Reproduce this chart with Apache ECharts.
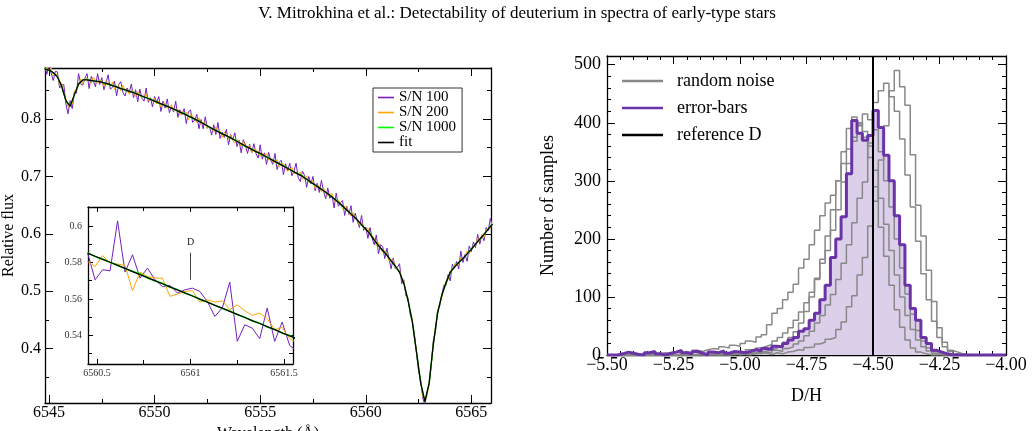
<!DOCTYPE html>
<html>
<head>
<meta charset="utf-8">
<title>Detectability of deuterium</title>
<script src="https://cdn.jsdelivr.net/npm/echarts@6.0.0/dist/echarts.min.js"></script>
<style>
  html, body { margin: 0; padding: 0; background: #fff; }
  #chart { width: 1034px; height: 431px; }
</style>
</head>
<body>
<div id="chart"></div>
<script>
const SERIF = 'Liberation Serif';
const TITLE = 'V. Mitrokhina et al.: Detectability of deuterium in spectra of early-type stars';

// ---- left panel: synthetic spectra around H-alpha ----
const WAVE_MIN = 6544.81, WAVE_MAX = 6565.93;
const FLUX_MIN = 0.3054, FLUX_MAX = 0.8888;
const waveTicks = [6545, 6550, 6555, 6560, 6565];
const waveMinorTicks = [6547.5, 6552.5, 6557.5, 6562.5];
const fluxTicks = [0.4, 0.5, 0.6, 0.7, 0.8];
const fluxMinorTicks = [0.35, 0.45, 0.55, 0.65, 0.75, 0.85];

// noisy spectra sampled every 0.1 A, fit and S/N 1000 every 0.2 A
const SPEC_START = 6544.8, NOISY_STEP = 0.1, SMOOTH_STEP = 0.2;

const fitFlux = [
  0.887,0.885,0.881,0.873,0.857,0.832,0.822,0.842,0.861,0.868,
  0.868,0.867,0.866,0.865,0.863,0.861,0.858,0.856,0.853,0.851,
  0.848,0.846,0.843,0.840,0.837,0.834,0.831,0.828,0.825,0.822,
  0.819,0.816,0.812,0.809,0.805,0.802,0.798,0.794,0.790,0.786,
  0.782,0.778,0.774,0.771,0.767,0.763,0.759,0.755,0.751,0.747,
  0.743,0.740,0.736,0.732,0.728,0.724,0.720,0.716,0.712,0.708,
  0.704,0.700,0.695,0.690,0.685,0.680,0.675,0.670,0.664,0.658,
  0.652,0.645,0.638,0.631,0.624,0.616,0.608,0.600,0.589,0.580,
  0.571,0.563,0.553,0.544,0.533,0.514,0.484,0.448,0.395,0.340,
  0.308,0.340,0.408,0.462,0.493,0.515,0.533,0.542,0.550,0.557,
  0.565,0.573,0.582,0.591,0.599,0.608,0.617
];

const sn1000Flux = [
  0.888,0.885,0.880,0.874,0.857,0.831,0.823,0.842,0.860,0.868,
  0.869,0.867,0.865,0.866,0.863,0.860,0.858,0.857,0.853,0.850,
  0.848,0.847,0.843,0.839,0.837,0.835,0.831,0.827,0.825,0.823,
  0.819,0.815,0.812,0.810,0.805,0.801,0.798,0.795,0.790,0.785,
  0.782,0.779,0.774,0.770,0.767,0.764,0.759,0.754,0.751,0.748,
  0.743,0.739,0.736,0.733,0.728,0.723,0.720,0.717,0.712,0.707,
  0.704,0.701,0.695,0.689,0.685,0.681,0.675,0.669,0.664,0.659,
  0.652,0.644,0.638,0.632,0.624,0.615,0.608,0.601,0.589,0.579,
  0.571,0.564,0.553,0.543,0.533,0.515,0.484,0.447,0.395,0.341,
  0.308,0.339,0.408,0.463,0.493,0.514,0.533,0.543,0.550,0.556,
  0.565,0.574,0.582,0.590,0.599,0.609,0.617
];

const sn100Flux = [
  0.892,0.878,0.897,0.880,0.867,0.883,0.882,0.854,0.859,0.860,
  0.826,0.809,0.832,0.818,0.846,0.845,0.879,0.861,0.859,0.871,
  0.879,0.853,0.874,0.866,0.856,0.879,0.860,0.872,0.851,0.863,
  0.877,0.852,0.855,0.866,0.840,0.860,0.865,0.846,0.840,0.854,
  0.846,0.861,0.837,0.851,0.830,0.852,0.836,0.831,0.854,0.829,
  0.837,0.821,0.839,0.829,0.839,0.813,0.831,0.819,0.835,0.811,
  0.821,0.812,0.831,0.803,0.816,0.808,0.818,0.792,0.812,0.816,
  0.794,0.798,0.808,0.783,0.799,0.783,0.804,0.784,0.787,0.772,
  0.790,0.773,0.794,0.766,0.777,0.768,0.782,0.755,0.773,0.764,
  0.776,0.752,0.763,0.741,0.764,0.755,0.740,0.756,0.741,0.757,
  0.740,0.732,0.755,0.730,0.741,0.721,0.742,0.728,0.721,0.740,
  0.712,0.725,0.728,0.703,0.722,0.710,0.723,0.701,0.709,0.723,
  0.698,0.691,0.709,0.702,0.681,0.700,0.687,0.700,0.675,0.688,
  0.672,0.693,0.674,0.661,0.680,0.662,0.667,0.645,0.671,0.648,
  0.654,0.658,0.632,0.648,0.634,0.649,0.620,0.636,0.622,0.611,
  0.632,0.606,0.612,0.592,0.611,0.592,0.581,0.598,0.565,0.581,
  0.578,0.557,0.575,0.557,0.539,0.558,0.539,0.542,0.548,0.513,
  0.520,0.492,0.489,0.460,0.449,0.426,0.393,0.360,0.346,0.314,
  0.302,0.324,0.337,0.372,0.415,0.429,0.466,0.474,0.494,0.511,
  0.510,0.529,0.518,0.547,0.540,0.552,0.539,0.570,0.550,0.564,
  0.552,0.579,0.569,0.586,0.576,0.599,0.582,0.598,0.588,0.611,
  0.606,0.627,0.612
];

const sn200Flux = [
  0.884,0.890,0.884,0.889,0.876,0.879,0.876,0.859,0.862,0.843,
  0.836,0.821,0.823,0.826,0.849,0.849,0.860,0.870,0.862,0.870,
  0.871,0.866,0.862,0.873,0.867,0.862,0.869,0.863,0.857,0.867,
  0.863,0.857,0.864,0.852,0.855,0.858,0.849,0.859,0.849,0.851,
  0.843,0.850,0.848,0.839,0.848,0.841,0.837,0.843,0.843,0.831,
  0.835,0.831,0.836,0.826,0.831,0.821,0.827,0.828,0.819,0.820,
  0.825,0.814,0.817,0.817,0.807,0.813,0.807,0.812,0.799,0.808,
  0.805,0.799,0.794,0.802,0.791,0.793,0.795,0.783,0.788,0.782,
  0.778,0.786,0.777,0.779,0.768,0.777,0.772,0.766,0.772,0.763,
  0.758,0.764,0.761,0.753,0.761,0.752,0.748,0.754,0.741,0.747,
  0.747,0.740,0.735,0.741,0.737,0.740,0.728,0.732,0.725,0.725,
  0.729,0.716,0.723,0.722,0.714,0.709,0.713,0.716,0.705,0.708,
  0.703,0.707,0.696,0.696,0.701,0.690,0.691,0.692,0.679,0.685,
  0.683,0.673,0.680,0.672,0.666,0.669,0.670,0.658,0.656,0.659,
  0.653,0.643,0.648,0.647,0.636,0.631,0.637,0.627,0.626,0.615,
  0.620,0.609,0.607,0.610,0.596,0.597,0.592,0.579,0.585,0.574,
  0.568,0.571,0.564,0.553,0.555,0.555,0.540,0.538,0.536,0.522,
  0.519,0.496,0.486,0.465,0.451,0.420,0.396,0.366,0.342,0.317,
  0.309,0.317,0.342,0.372,0.409,0.438,0.460,0.479,0.490,0.506,
  0.519,0.520,0.536,0.536,0.547,0.545,0.547,0.558,0.555,0.562,
  0.570,0.565,0.575,0.577,0.579,0.593,0.589,0.599,0.594,0.607,
  0.609,0.609,0.623
];

// ---- inset: zoom on 6560.5 - 6561.5 A ----
const INSET_WAVE_MIN = 6560.452, INSET_WAVE_MAX = 6561.548;
const INSET_FLUX_MIN = 0.5243, INSET_FLUX_MAX = 0.6104;
const insetWaveTicks = [6560.5, 6561, 6561.5];
const insetWaveMinorTicks = [6560.75, 6561.25];
const insetFluxTicks = [0.54, 0.56, 0.58, 0.6];
const insetFluxMinorTicks = [0.53, 0.55, 0.57, 0.59];
const INSET_START = 6560.45, INSET_STEP = 0.04;

const insetSn100 = [
  0.5851,0.5705,0.5760,0.5754,0.6028,0.5747,0.5842,0.5714,0.5769,0.5705,
  0.5668,0.5674,0.5632,0.5650,0.5659,0.5641,0.5586,0.5504,0.5550,0.5692,
  0.5367,0.5458,0.5440,0.5382,0.5550,0.5367,0.5473,0.5345,0.5312
];
const insetSn200 = [
  0.5805,0.5778,0.5838,0.5796,0.5791,0.5784,0.5645,0.5747,0.5723,0.5714,
  0.5714,0.5614,0.5626,0.5641,0.5645,0.5583,0.5595,0.5583,0.5590,0.5541,
  0.5568,0.5535,0.5510,0.5522,0.5491,0.5431,0.5444,0.5382,0.5358
];
const insetSn1000 = [
  0.5853,0.5832,0.5819,0.5800,0.5786,0.5765,0.5752,0.5738,0.5715,0.5698,
  0.5686,0.5664,0.5651,0.5631,0.5618,0.5597,0.5584,0.5566,0.5547,0.5534,
  0.5513,0.5500,0.5479,0.5467,0.5446,0.5433,0.5412,0.5399,0.5380
];
const insetFit = [
  0.5851,0.5834,0.5817,0.5801,0.5784,0.5767,0.5750,0.5733,0.5717,0.5700,
  0.5683,0.5666,0.5649,0.5633,0.5616,0.5599,0.5582,0.5565,0.5549,0.5532,
  0.5515,0.5498,0.5481,0.5465,0.5448,0.5431,0.5414,0.5397,0.5381
];
// deuterium line position marker
const D_WAVE = 6561, D_MARK_TOP = 0.5853, D_MARK_BOTTOM = 0.5705;

// ---- right panel: D/H histograms ----
const DH_MIN = -5.5, DH_MAX = -4.0, COUNT_MAX = 515;
const DH_BIN = 0.02;
const refD = -4.5;

const errorBarCounts = [
  0,0,2,5,3,1,0,4,6,2,
  0,3,5,8,4,2,6,3,0,5,
  4,7,3,6,5,4,6,9,7,11,
  10,15,14,20,26,30,41,45,60,72,
  95,120,168,200,238,312,404,382,370,378,
  421,392,344,300,240,190,120,80,60,30,
  20,8,5,2,0,0,0,0,0,0,
  0,0,0,0,0
];

const noiseCountsA = [
  0,0,0,0,0,0,0,0,0,0,
  0,0,0,0,0,0,1,0,0,2,
  0,1,0,2,0,1,3,2,4,3,
  1,4,2,5,6,9,8,13,14,19,
  22,27,30,44,57,83,102,138,168,222,
  265,336,395,455,490,462,430,345,258,205,
  146,92,47,22,8,5,2,1,0,0,
  0,0,0,0,0
];
const noiseCountsB = [
  0,0,0,0,0,0,0,0,0,0,
  0,0,0,1,0,0,0,2,0,0,
  0,0,1,0,2,1,0,3,2,5,
  4,8,6,11,14,19,24,33,41,55,
  68,86,104,130,158,190,228,270,298,365,
  435,455,468,445,420,372,310,255,196,140,
  95,58,30,14,6,2,0,0,0,0,
  0,0,0,0,0
];
const noiseCountsC = [
  0,0,0,0,0,0,0,0,0,0,
  0,0,0,0,0,0,1,0,0,2,
  1,3,2,4,6,5,9,8,12,15,
  18,24,30,38,47,60,74,90,108,132,
  158,180,215,250,298,330,368,395,415,405,
  388,350,300,255,200,150,105,70,42,24,
  12,6,3,1,0,0,0,0,0,0,
  0,0,0,0,0
];
const noiseCountsD = [
  0,0,0,1,0,2,0,1,3,2,
  4,2,5,3,6,4,8,6,9,11,
  10,14,12,17,15,20,24,22,31,35,
  52,72,80,95,108,122,150,165,190,215,
  240,262,275,300,330,355,375,398,385,360,
  318,270,225,180,138,100,68,44,26,14,
  7,3,1,0,0,0,0,0,0,0,
  0,0,0,0,0
];
const noiseCountsE = [
  0,0,0,0,0,0,0,0,0,0,
  0,0,0,0,0,0,0,1,0,0,
  0,1,0,2,1,3,2,4,5,7,
  9,12,16,22,30,40,55,75,100,130,
  165,205,250,300,350,390,410,400,375,340,
  290,220,170,120,78,48,26,12,5,2,
  0,0,0,0,0,0,0,0,0,0,
  0,0,0,0,0
];
const noiseRuns = [noiseCountsA, noiseCountsB, noiseCountsC, noiseCountsD, noiseCountsE];

const countTicks = [0, 100, 200, 300, 400, 500];

// ---- colours ----
const PURPLE = '#7221bc', ORANGE = '#ffa500', GREEN = '#00ff00';
const GRAY = '#888888', EB_PURPLE = '#6a33a6', EB_FILL = '#dccfe9';

// build [x, y] pairs on a regular wavelength grid
const gridPairs = (start, step, values) =>
  values.map((v, i) => [+(start + i * step).toFixed(3), v]);

// build a step outline for a histogram (left bin edges)
const histPairs = counts => {
  const pts = [[DH_MIN, 0]];
  counts.forEach((c, i) => pts.push([+(DH_MIN + i * DH_BIN).toFixed(3), c]));
  pts.push([+(DH_MIN + counts.length * DH_BIN).toFixed(3), 0]);
  return pts;
};

// one side of a boxed frame: line + inward ticks (+ labels)
function edgeAxis(o) {
  const ax = {
    type: 'value',
    gridIndex: o.grid,
    position: o.pos,
    min: o.min,
    max: o.max,
    axisLine: { show: !!o.line, onZero: false, lineStyle: { color: '#000', width: 1.3 } },
    axisTick: { show: true, inside: true, length: o.len, lineStyle: { color: '#000', width: 1 } },
    axisLabel: { show: false },
    splitLine: { show: false },
    minorTick: { show: false },
  };
  if (o.interval) ax.interval = o.interval;
  if (o.ticks) ax.axisTick.customValues = o.ticks;
  if (o.label) {
    ax.axisLabel = Object.assign({
      show: true, fontFamily: SERIF, color: '#000',
      showMinLabel: true, showMaxLabel: true,
    }, o.label);
    if (o.ticks) ax.axisLabel.customValues = o.ticks;
  }
  if (o.name) {
    ax.name = o.name;
    ax.nameLocation = 'middle';
    ax.nameGap = o.nameGap;
    ax.nameTextStyle = { fontFamily: SERIF, fontSize: o.nameSize, color: '#000' };
  }
  return ax;
}

const fmtDH = v => (v < 0 ? '\u2212' : '') + Math.abs(v).toFixed(2);

const xAxes = [
  // main spectrum panel (grid 0)
  edgeAxis({ grid: 0, pos: 'bottom', min: WAVE_MIN, max: WAVE_MAX, ticks: waveTicks, len: 8, line: true,
    label: { fontSize: 16, margin: 2, formatter: v => String(v) },
    name: 'Wavelength (\u00c5)', nameGap: 17, nameSize: 16 }),
  edgeAxis({ grid: 0, pos: 'bottom', min: WAVE_MIN, max: WAVE_MAX, ticks: waveMinorTicks, len: 4 }),
  edgeAxis({ grid: 0, pos: 'top', min: WAVE_MIN, max: WAVE_MAX, ticks: waveTicks, len: 8, line: true }),
  edgeAxis({ grid: 0, pos: 'top', min: WAVE_MIN, max: WAVE_MAX, ticks: waveMinorTicks, len: 4 }),
  // inset (grid 1)
  edgeAxis({ grid: 1, pos: 'bottom', min: INSET_WAVE_MIN, max: INSET_WAVE_MAX, ticks: insetWaveTicks, len: 5, line: true,
    label: { fontSize: 10, margin: 4, color: '#333', formatter: v => String(v) } }),
  edgeAxis({ grid: 1, pos: 'bottom', min: INSET_WAVE_MIN, max: INSET_WAVE_MAX, ticks: insetWaveMinorTicks, len: 4 }),
  edgeAxis({ grid: 1, pos: 'top', min: INSET_WAVE_MIN, max: INSET_WAVE_MAX, ticks: insetWaveTicks, len: 5, line: true }),
  edgeAxis({ grid: 1, pos: 'top', min: INSET_WAVE_MIN, max: INSET_WAVE_MAX, ticks: insetWaveMinorTicks, len: 4 }),
  // histogram panel (grid 2)
  edgeAxis({ grid: 2, pos: 'bottom', min: DH_MIN, max: DH_MAX, interval: 0.25, len: 8, line: true,
    label: { fontSize: 18, margin: 1, formatter: fmtDH },
    name: 'D/H', nameGap: 32, nameSize: 18 }),
  edgeAxis({ grid: 2, pos: 'bottom', min: DH_MIN, max: DH_MAX, interval: 0.05, len: 4 }),
  edgeAxis({ grid: 2, pos: 'top', min: DH_MIN, max: DH_MAX, interval: 0.25, len: 8, line: true }),
  edgeAxis({ grid: 2, pos: 'top', min: DH_MIN, max: DH_MAX, interval: 0.05, len: 4 }),
];

const yAxes = [
  edgeAxis({ grid: 0, pos: 'left', min: FLUX_MIN, max: FLUX_MAX, ticks: fluxTicks, len: 8, line: true,
    label: { fontSize: 16, margin: 4, formatter: v => v.toFixed(1) },
    name: 'Relative flux', nameGap: 23, nameSize: 16 }),
  edgeAxis({ grid: 0, pos: 'left', min: FLUX_MIN, max: FLUX_MAX, ticks: fluxMinorTicks, len: 4 }),
  edgeAxis({ grid: 0, pos: 'right', min: FLUX_MIN, max: FLUX_MAX, ticks: fluxTicks, len: 8, line: true }),
  edgeAxis({ grid: 0, pos: 'right', min: FLUX_MIN, max: FLUX_MAX, ticks: fluxMinorTicks, len: 4 }),
  edgeAxis({ grid: 1, pos: 'left', min: INSET_FLUX_MIN, max: INSET_FLUX_MAX, ticks: insetFluxTicks, len: 5, line: true,
    label: { fontSize: 10, margin: 6, color: '#333', formatter: v => String(v) } }),
  edgeAxis({ grid: 1, pos: 'left', min: INSET_FLUX_MIN, max: INSET_FLUX_MAX, ticks: insetFluxMinorTicks, len: 4 }),
  edgeAxis({ grid: 1, pos: 'right', min: INSET_FLUX_MIN, max: INSET_FLUX_MAX, ticks: insetFluxTicks, len: 5, line: true }),
  edgeAxis({ grid: 1, pos: 'right', min: INSET_FLUX_MIN, max: INSET_FLUX_MAX, ticks: insetFluxMinorTicks, len: 4 }),
  edgeAxis({ grid: 2, pos: 'left', min: 0, max: COUNT_MAX, ticks: countTicks, len: 8, line: true,
    label: { fontSize: 18, margin: 6, formatter: v => String(v) },
    name: 'Number of samples', nameGap: 50, nameSize: 18 }),
  edgeAxis({ grid: 2, pos: 'left', min: 0, max: COUNT_MAX, interval: 20, len: 4 }),
  edgeAxis({ grid: 2, pos: 'right', min: 0, max: COUNT_MAX, ticks: countTicks, len: 8, line: true }),
  edgeAxis({ grid: 2, pos: 'right', min: 0, max: COUNT_MAX, interval: 20, len: 4 }),
];

const specLine = (name, data, color, width, xi, extra) => Object.assign({
  name, type: 'line', data, xAxisIndex: xi, yAxisIndex: xi,
  symbol: 'none', showSymbol: false, silent: true,
  lineStyle: { color, width }, itemStyle: { color },
}, extra || {});

const series = [
  specLine('S/N 100', gridPairs(SPEC_START, NOISY_STEP, sn100Flux), PURPLE, 1, 0),
  specLine('S/N 200', gridPairs(SPEC_START, NOISY_STEP, sn200Flux), ORANGE, 1, 0),
  specLine('S/N 1000', gridPairs(SPEC_START, SMOOTH_STEP, sn1000Flux), GREEN, 1.3, 0),
  specLine('fit', gridPairs(SPEC_START, SMOOTH_STEP, fitFlux), '#000', 1.3, 0),

  specLine('S/N 100', gridPairs(INSET_START, INSET_STEP, insetSn100), PURPLE, 1, 4),
  specLine('S/N 200', gridPairs(INSET_START, INSET_STEP, insetSn200), ORANGE, 1, 4),
  specLine('S/N 1000', gridPairs(INSET_START, INSET_STEP, insetSn1000), GREEN, 1.5, 4),
  specLine('fit', gridPairs(INSET_START, INSET_STEP, insetFit), '#000', 1.3, 4, {
    markLine: {
      silent: true, symbol: 'none', animation: false,
      lineStyle: { color: '#444', width: 1, type: 'solid' },
      label: { show: true, position: 'start', formatter: 'D', distance: 5,
        fontFamily: SERIF, fontSize: 10, color: '#222' },
      data: [[{ coord: [D_WAVE, D_MARK_TOP] }, { coord: [D_WAVE, D_MARK_BOTTOM] }]],
    },
  }),

  // error-bar histogram fill below everything
  {
    name: 'error-bars fill', type: 'line', step: 'end', data: histPairs(errorBarCounts),
    xAxisIndex: 8, yAxisIndex: 8, symbol: 'none', silent: true,
    lineStyle: { width: 0, color: EB_FILL }, areaStyle: { color: EB_FILL, opacity: 1 },
  },
];

noiseRuns.forEach(counts => series.push({
  name: 'random noise', type: 'line', step: 'end', data: histPairs(counts),
  xAxisIndex: 8, yAxisIndex: 8, symbol: 'none', silent: true,
  lineStyle: { color: GRAY, width: 1.5 }, itemStyle: { color: GRAY },
}));

series.push({
  name: 'error-bars', type: 'line', step: 'end', data: histPairs(errorBarCounts),
  xAxisIndex: 8, yAxisIndex: 8, symbol: 'none', silent: true,
  lineStyle: { color: EB_PURPLE, width: 3 }, itemStyle: { color: EB_PURPLE },
});
series.push({
  name: 'reference D', type: 'line', data: [[refD, 0], [refD, COUNT_MAX]],
  xAxisIndex: 8, yAxisIndex: 8, symbol: 'none', silent: true,
  lineStyle: { color: '#000', width: 2 }, itemStyle: { color: '#000' },
});

const chart = echarts.init(document.getElementById('chart'));
chart.setOption({
  animation: false,
  backgroundColor: '#fff',
  textStyle: { fontFamily: SERIF },
  title: {
    text: TITLE, left: 'center', top: 5, padding: 0,
    textStyle: { fontFamily: SERIF, fontSize: 17, fontWeight: 'normal', color: '#000' },
  },
  legend: [
    {
      data: ['S/N 100', 'S/N 200', 'S/N 1000', 'fit'],
      orient: 'vertical', left: 373, top: 88,
      padding: [2, 6, 2, 5], itemGap: 0, itemWidth: 16, itemHeight: 1.6, icon: 'rect',
      borderColor: '#333', borderWidth: 1, backgroundColor: '#fff',
      textStyle: { fontFamily: SERIF, fontSize: 15, lineHeight: 15, color: '#000' },
      selectedMode: false,
    },
    {
      data: ['random noise', 'error-bars', 'reference D'],
      orient: 'vertical', left: 622, top: 72,
      padding: 0, itemGap: 9, itemWidth: 41, itemHeight: 2.5, icon: 'rect',
      formatter: name => '  ' + name,
      textStyle: { fontFamily: SERIF, fontSize: 18, lineHeight: 18, color: '#000' },
      selectedMode: false,
    },
  ],
  grid: [
    { left: 45, top: 68, right: 543, bottom: 28, containLabel: false, outerBoundsMode: 'none' },
    { left: 88, top: 207, right: 741, bottom: 67, containLabel: false, outerBoundsMode: 'none',
      show: true, backgroundColor: '#fff', borderWidth: 0 },
    { left: 607, top: 56, right: 28, bottom: 76, containLabel: false, outerBoundsMode: 'none' },
  ],
  xAxis: xAxes,
  yAxis: yAxes,
  series,
});
</script>
</body>
</html>
